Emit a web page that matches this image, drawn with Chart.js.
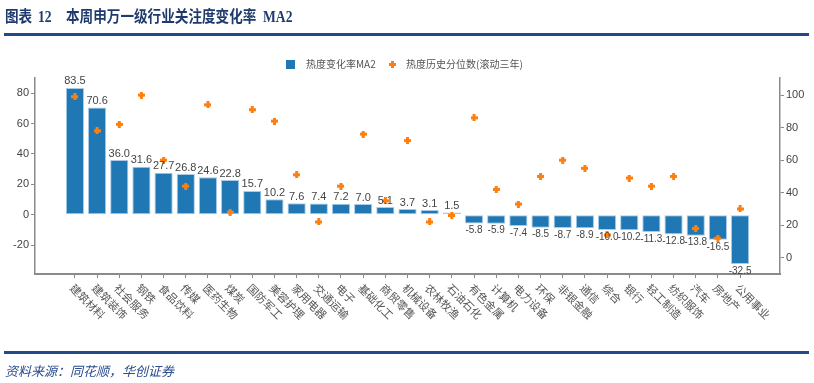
<!DOCTYPE html>
<html>
<head>
<meta charset="utf-8">
<script src="https://cdn.jsdelivr.net/npm/chart.js@4.4.0/dist/chart.umd.min.js"></script>
<style>
  html, body { margin: 0; padding: 0; background: #fff; }
  #wrap { position: relative; width: 814px; height: 383px; overflow: hidden; }
  #chart { position: absolute; left: 0; top: 0; }
  .title {
    position: absolute; top: 6px;
    font-family: "Liberation Serif", "Noto Sans CJK SC", serif;
    font-weight: bold; font-size: 16px; line-height: 22px;
    color: #1f3b6e; white-space: pre;
    transform: scaleX(0.85); transform-origin: left center;
  }
  .rule { position: absolute; left: 4px; width: 805px; height: 3px; background: #23498a; }
  .source {
    position: absolute; left: 5px; top: 361px;
    font-family: "Noto Sans CJK SC", sans-serif; font-style: italic;
    font-size: 13px; color: #2a4d8f;
  }
</style>
</head>
<body>
<div id="wrap">
  <canvas id="chart" width="814" height="383"></canvas>
  <div class="title" style="left:5px">图表</div>
  <div class="title" style="left:38px">12</div>
  <div class="title" style="left:66px">本周申万一级行业关注度变化率</div>
  <div class="title" style="left:263px">MA2</div>
  <div class="rule" style="top:33px"></div>
  <div class="rule" style="top:351px"></div>
  <div class="source">资料来源：同花顺，华创证券</div>
</div>
<script>
// industries (SW level-1)
const categories = ['建筑材料', '建筑装饰', '社会服务', '钢铁', '食品饮料', '传媒', '医药生物', '煤炭',
  '国防军工', '美容护理', '家用电器', '交通运输', '电子', '基础化工', '商贸零售', '机械设备',
  '农林牧渔', '石油石化', '有色金属', '计算机', '电力设备', '环保', '非银金融', '通信', '综合',
  '银行', '轻工制造', '纺织服饰', '汽车', '房地产', '公用事业'];

// 热度变化率MA2 (left axis)
const changeMA2 = [83.5, 70.6, 36.0, 31.6, 27.7, 26.8, 24.6, 22.8, 15.7, 10.2, 7.6, 7.4, 7.2, 7.0,
  5.1, 3.7, 3.1, 1.5, -5.8, -5.9, -7.4, -8.5, -8.7, -8.9, -10.0, -10.2, -11.3, -12.8, -13.8, -16.5, -32.5];

// 热度历史分位数(滚动三年) (right axis)
const percentile3y = [99, 78, 82, 100, 60, 44, 94, 28, 91, 84, 51, 22, 44, 76, 35, 72, 22, 26, 86,
  42, 33, 50, 60, 55, 14, 49, 44, 50, 18, 12, 30];

const leftTicks = [-20, 0, 20, 40, 60, 80];
const rightTicks = [0, 20, 40, 60, 80, 100];

const legendLabels = ['热度变化率MA2', '热度历史分位数(滚动三年)'];

const BLUE = '#1f77b4';
const ORANGE = '#ff7f0e';
const AXIS = '#8a8a8a';
const TEXT = '#444';

// small filled plus marker
const plus = document.createElement('canvas');
plus.width = 7; plus.height = 7;
(function () {
  const c = plus.getContext('2d');
  c.fillStyle = ORANGE;
  c.fillRect(2, 0, 3, 7);
  c.fillRect(0, 2, 7, 3);
})();

const overlay = {
  id: 'overlay',
  afterDatasetsDraw(chart) {
    const ctx = chart.ctx;
    const x = chart.scales.x, y = chart.scales.y;
    ctx.save();
    ctx.fillStyle = TEXT;
    ctx.textAlign = 'center';
    changeMA2.forEach((v, i) => {
      const px = x.getPixelForValue(i);
      if (v >= 0) {
        ctx.font = '11px "Liberation Sans", "DejaVu Sans", sans-serif';
        ctx.textBaseline = 'bottom';
        ctx.fillText(v.toFixed(1), px, y.getPixelForValue(v) - 1);
      } else {
        ctx.font = '10px "Liberation Sans", "DejaVu Sans", sans-serif';
        ctx.textBaseline = 'top';
        ctx.fillText(v.toFixed(1), px, y.getPixelForValue(v) + 2);
      }
    });
    ctx.restore();
  },
  afterDraw(chart) {
    const ctx = chart.ctx;
    const x = chart.scales.x;
    const area = chart.chartArea;
    ctx.save();
    // rotated category labels
    ctx.font = '11px "Noto Sans CJK SC", sans-serif';
    ctx.fillStyle = '#555';
    ctx.textAlign = 'left';
    ctx.textBaseline = 'middle';
    categories.forEach((c, i) => {
      const px = x.getPixelForValue(i);
      ctx.save();
      ctx.translate(px - 3, area.bottom + 12);
      ctx.rotate(Math.PI / 4);
      ctx.fillText(c, 0, 0);
      ctx.restore();
    });
    // legend
    ctx.font = '10px "Noto Sans CJK SC", sans-serif';
    ctx.textBaseline = 'middle';
    ctx.fillStyle = BLUE;
    ctx.fillRect(286, 60, 9, 9);
    ctx.fillStyle = '#555';
    ctx.fillText(legendLabels[0], 306, 64.5);
    ctx.drawImage(plus, 389, 61);
    ctx.fillStyle = '#555';
    ctx.fillText(legendLabels[1], 406, 64.5);
    ctx.restore();
  }
};

new Chart(document.getElementById('chart'), {
  data: {
    datasets: [{
      type: 'scatter',
      label: legendLabels[1],
      data: percentile3y.map((v, i) => ({ x: i, y: v })),
      yAxisID: 'y1',
      pointStyle: plus,
      pointRadius: 3.5,
      order: 0
    }, {
      type: 'bar',
      label: legendLabels[0],
      data: changeMA2.map((v, i) => ({ x: i, y: v })),
      yAxisID: 'y',
      backgroundColor: BLUE,
      borderColor: '#a9cbe8',
      borderWidth: 1,
      borderSkipped: false,
      categoryPercentage: 1,
      barPercentage: 0.82,
      order: 1
    }]
  },
  options: {
    responsive: false,
    animation: false,
    layout: { padding: { top: 78, left: 0, right: 0, bottom: 0 } },
    plugins: {
      legend: { display: false },
      tooltip: { enabled: false }
    },
    scales: {
      x: {
        type: 'linear',
        offset: false,
        min: -1.8,
        max: 31.8,
        afterBuildTicks: s => { s.ticks = categories.map((_, i) => ({ value: i })); },
        afterFit: s => { s.height = 109; },
        ticks: { display: false },
        grid: { drawOnChartArea: false, drawTicks: true, tickLength: 4, color: AXIS, offset: false },
        border: { color: AXIS, width: 2 }
      },
      y: {
        position: 'left',
        min: -39,
        max: 90,
        afterBuildTicks: s => { s.ticks = leftTicks.map(v => ({ value: v })); },
        afterFit: s => { s.width = 35; },
        ticks: {
          color: TEXT, padding: 2,
          font: { family: '"Liberation Sans", sans-serif', size: 11 }
        },
        grid: { drawOnChartArea: false, tickLength: 4, color: AXIS },
        border: { color: AXIS, width: 1.5 }
      },
      y1: {
        position: 'right',
        min: -10,
        max: 110.5,
        afterBuildTicks: s => { s.ticks = rightTicks.map(v => ({ value: v })); },
        afterFit: s => { s.width = 34; },
        ticks: {
          color: TEXT, padding: 2,
          font: { family: '"Liberation Sans", sans-serif', size: 11 }
        },
        grid: { drawOnChartArea: false, tickLength: 4, color: AXIS },
        border: { color: AXIS, width: 1.5 }
      }
    }
  },
  plugins: [overlay]
});
</script>
</body>
</html>
